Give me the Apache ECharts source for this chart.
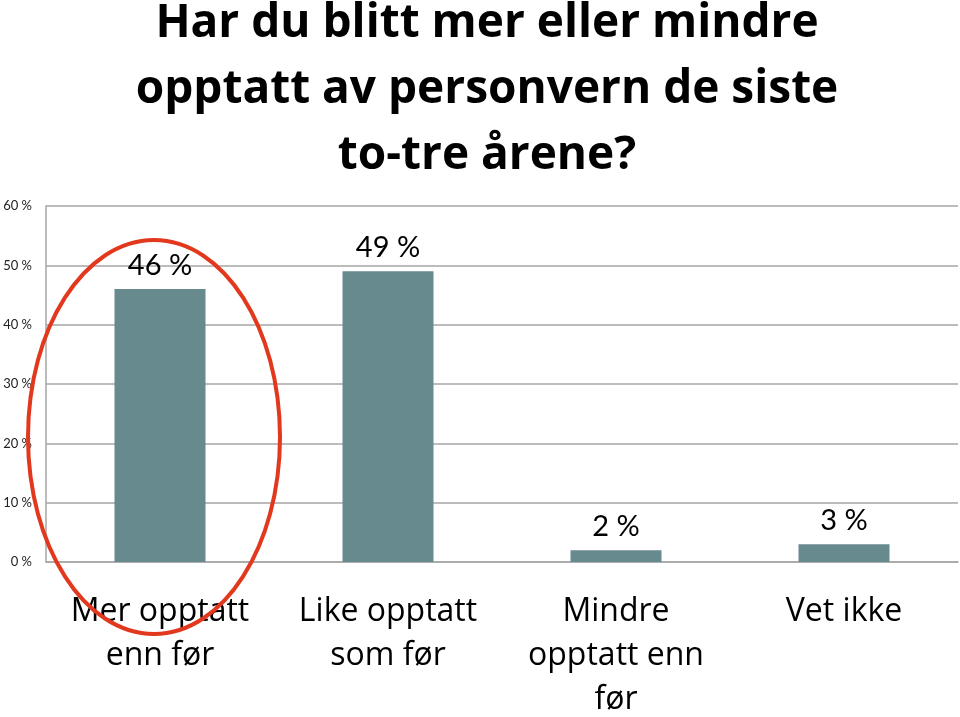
<!DOCTYPE html>
<html>
<head>
<meta charset="utf-8">
<script src="https://cdn.jsdelivr.net/npm/echarts@6/dist/echarts.min.js"></script>
<style>
  html, body { margin: 0; padding: 0; background: #fff; }
  #chart { width: 960px; height: 717px; }
</style>
</head>
<body>
<div id="chart"></div>
<script>
const titleText = 'Har du blitt mer eller mindre\nopptatt av personvern de siste\nto-tre årene?';
const categories = ['Mer opptatt\nenn før', 'Like opptatt\nsom før', 'Mindre\nopptatt enn\nfør', 'Vet ikke'];
const shares = [46, 49, 2, 3];
const yTicks = [0, 10, 20, 30, 40, 50, 60];

const myChart = echarts.init(document.getElementById('chart'));

const option = {
    backgroundColor: '#fff',
    animation: false,
    title: {
        text: titleText,
        left: 482,
        top: -14,
        textAlign: 'center',
        textStyle: {
            fontFamily: 'Open Sans',
            fontWeight: 'bold',
            fontSize: 46,
            lineHeight: 66,
            color: '#000'
        }
    },
    grid: {
        left: 46,
        right: 2,
        top: 206,
        bottom: 155,
        outerBoundsMode: 'none',
        containLabel: false
    },
    xAxis: {
        type: 'category',
        data: categories,
        axisTick: { show: false },
        axisLine: { lineStyle: { color: '#a6a6a6', width: 1.5 } },
        axisLabel: {
            interval: 0,
            margin: 28,
            fontFamily: 'Open Sans',
            fontSize: 32,
            lineHeight: 44,
            color: '#000'
        }
    },
    yAxis: {
        type: 'value',
        min: yTicks[0],
        max: yTicks[yTicks.length - 1],
        interval: 10,
        axisLine: { show: true, lineStyle: { color: '#a6a6a6', width: 1.5 } },
        axisTick: { show: false },
        splitLine: { lineStyle: { color: '#a6a6a6', width: 1.5 } },
        axisLabel: {
            margin: 14,
            fontFamily: 'Lato',
            fontSize: 13,
            color: '#222',
            formatter: v => v + ' %'
        }
    },
    series: [{
        type: 'bar',
        data: shares,
        barWidth: 91,
        itemStyle: { color: '#678a8f' },
        label: {
            show: true,
            position: 'top',
            distance: 9,
            fontFamily: 'Lato',
            fontSize: 29,
            color: '#000',
            formatter: p => p.value + ' %'
        }
    }],
    graphic: [{
        type: 'ellipse',
        shape: { cx: 154, cy: 437, rx: 126, ry: 197 },
        style: { fill: 'none', stroke: '#e2381d', lineWidth: 4 },
        z: 100
    }]
};

myChart.setOption(option);
</script>
</body>
</html>
